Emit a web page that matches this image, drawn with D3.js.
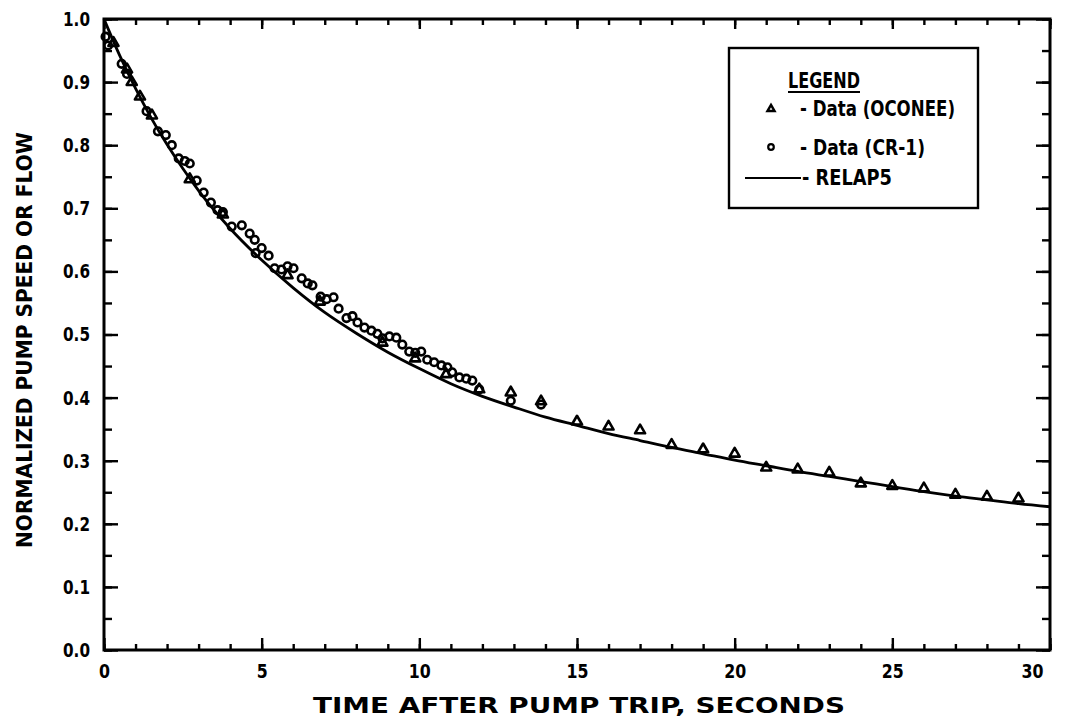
<!DOCTYPE html>
<html>
<head>
<meta charset="utf-8">
<script src="https://cdn.jsdelivr.net/npm/d3@7"></script>
<style>
  html, body { margin: 0; padding: 0; background: #fff; }
  svg { display: block; }
  text { font-family: "DejaVu Sans", sans-serif; font-weight: bold; fill: #000; }
</style>
</head>
<body>
<script>
// ---- Data ----
const relapT = [0, 0.5, 1, 1.5, 2, 2.5, 3, 4, 5, 6, 7, 8, 9, 10, 11, 12, 13, 14, 15, 16, 17, 18, 19, 20, 21, 22, 23, 24, 25, 26, 27, 28, 29, 30];
const relapV = [1.0, 0.942, 0.89, 0.843, 0.801, 0.763, 0.728, 0.668, 0.618, 0.574, 0.535, 0.502, 0.472, 0.446, 0.422, 0.402, 0.385, 0.369, 0.356, 0.343, 0.332, 0.321, 0.311, 0.301, 0.292, 0.283, 0.275, 0.267, 0.259, 0.251, 0.244, 0.238, 0.232, 0.227];

const oconeeT = [0.3, 0.73, 0.88, 1.14, 1.52, 2.72, 3.77, 5.82, 6.84, 8.83, 9.87, 10.85, 11.9, 12.9, 13.86, 15, 16, 17, 18, 19, 20, 21, 22, 23, 24, 25, 26, 27, 28, 29];
const oconeeV = [0.962, 0.92, 0.9, 0.877, 0.847, 0.746, 0.69, 0.594, 0.552, 0.487, 0.462, 0.437, 0.413, 0.408, 0.394, 0.362, 0.354, 0.348, 0.325, 0.318, 0.311, 0.289, 0.286, 0.281, 0.264, 0.26, 0.256, 0.246, 0.243, 0.24];

const cr1T = [0.05, 0.13, 0.56, 0.73, 1.35, 1.71, 1.96, 2.15, 2.37, 2.56, 2.72, 2.94, 3.16, 3.39, 3.6, 3.77, 4.05, 4.37, 4.62, 4.78, 4.81, 5.0, 5.22, 5.41, 5.63, 5.82, 6.01, 6.27, 6.46, 6.61, 6.87, 7.06, 7.28, 7.44, 7.69, 7.88, 8.04, 8.26, 8.48, 8.67, 8.83, 9.05, 9.27, 9.46, 9.68, 9.87, 10.06, 10.25, 10.47, 10.7, 10.89, 11.04, 11.27, 11.49, 11.68, 11.9, 12.9, 13.86];
const cr1V = [0.972, 0.958, 0.929, 0.913, 0.854, 0.822, 0.816, 0.8, 0.779, 0.775, 0.771, 0.744, 0.725, 0.709, 0.697, 0.694, 0.671, 0.673, 0.66, 0.65, 0.629, 0.637, 0.625, 0.605, 0.603, 0.608, 0.605, 0.589, 0.581, 0.578, 0.56, 0.556, 0.559, 0.541, 0.526, 0.529, 0.519, 0.511, 0.506, 0.501, 0.494, 0.497, 0.495, 0.484, 0.473, 0.471, 0.473, 0.46, 0.456, 0.451, 0.448, 0.44, 0.432, 0.43, 0.427, 0.413, 0.395, 0.389];

const xMajorTicks = [0, 5, 10, 15, 20, 25, 30];
const yMajorTicks = [0, 0.1, 0.2, 0.3, 0.4, 0.5, 0.6, 0.7, 0.8, 0.9, 1.0];
const xTitle = "TIME AFTER PUMP TRIP, SECONDS";
const yTitle = "NORMALIZED PUMP SPEED OR FLOW";
const legendTitle = "LEGEND";
const legendLabels = ["- Data (OCONEE)", "- Data (CR-1)", "- RELAP5"];

// ---- Layout ----
const W = 1074, H = 721;
const L = 104, R = 1050, T = 19, B = 650;

const svg = d3.select("body").append("svg").attr("width", W).attr("height", H);

const x = d3.scaleLinear().domain([0, 30]).range([L, R]);
const y = d3.scaleLinear().domain([0, 1]).range([B, T]);

const xMinor = d3.range(0, 31, 1);
const yMinor = d3.range(0, 21).map(i => i * 0.05);

function styleAxis(g) {
  g.select(".domain").remove();
  g.selectAll(".tick line").attr("stroke", "#000").attr("stroke-width", 2.4);
  g.selectAll(".tick text").attr("font-size", 20).attr("fill", "#000")
    .attr("font-family", "DejaVu Sans").attr("font-weight", "bold");
}

// bottom
svg.append("g").attr("transform", `translate(0,${B})`)
  .call(d3.axisBottom(x).tickValues(xMinor).tickSize(-6).tickFormat(""))
  .call(styleAxis);
const gxb = svg.append("g").attr("transform", `translate(0,${B})`)
  .call(d3.axisBottom(x).tickValues(xMajorTicks).tickSize(-12).tickPadding(14).tickFormat(d3.format("d")))
  .call(styleAxis);
gxb.selectAll(".tick text").filter(d => d === 30).attr("dx", -18);
gxb.selectAll(".tick text").each(function() {
  const n = this.textContent.length;
  d3.select(this).attr("textLength", n * 11).attr("lengthAdjust", "spacingAndGlyphs");
});

// top
svg.append("g").attr("transform", `translate(0,${T})`)
  .call(d3.axisTop(x).tickValues(xMinor).tickSize(-6).tickFormat(""))
  .call(styleAxis);
svg.append("g").attr("transform", `translate(0,${T})`)
  .call(d3.axisTop(x).tickValues(xMajorTicks).tickSize(-10).tickFormat(""))
  .call(styleAxis);

// left
svg.append("g").attr("transform", `translate(${L},0)`)
  .call(d3.axisLeft(y).tickValues(yMinor).tickSize(-8).tickFormat(""))
  .call(styleAxis);
const gyl = svg.append("g").attr("transform", `translate(${L},0)`)
  .call(d3.axisLeft(y).tickValues(yMajorTicks).tickSize(-14).tickPadding(14).tickFormat(d3.format(".1f")))
  .call(styleAxis);
gyl.selectAll(".tick text").attr("textLength", 27).attr("lengthAdjust", "spacingAndGlyphs");

// right
svg.append("g").attr("transform", `translate(${R},0)`)
  .call(d3.axisRight(y).tickValues(yMinor).tickSize(-8).tickFormat(""))
  .call(styleAxis);
svg.append("g").attr("transform", `translate(${R},0)`)
  .call(d3.axisRight(y).tickValues(yMajorTicks).tickSize(-14).tickFormat(""))
  .call(styleAxis);

// frame
svg.append("rect").attr("x", L).attr("y", T).attr("width", R - L).attr("height", B - T)
  .attr("fill", "none").attr("stroke", "#000").attr("stroke-width", 3);

// RELAP5 line
const relap = relapT.map((t, i) => [t, relapV[i]]);
svg.append("path").datum(relap)
  .attr("fill", "none").attr("stroke", "#000").attr("stroke-width", 2.8)
  .attr("d", d3.line().x(d => x(d[0])).y(d => y(d[1])).curve(d3.curveMonotoneX));

// CR-1 circles
svg.append("g").selectAll("circle").data(cr1T.map((t, i) => [t, cr1V[i]])).join("circle")
  .attr("cx", d => x(d[0])).attr("cy", d => y(d[1])).attr("r", 3.8)
  .attr("fill", "none").attr("stroke", "#000").attr("stroke-width", 2.6);

// OCONEE triangles
const tri = d3.symbol().type(d3.symbolTriangle).size(44);
svg.append("g").selectAll("path").data(oconeeT.map((t, i) => [t, oconeeV[i]])).join("path")
  .attr("transform", d => `translate(${x(d[0])},${y(d[1])})`)
  .attr("d", tri).attr("fill", "none").attr("stroke", "#000").attr("stroke-width", 2.6)
  .attr("stroke-linejoin", "round");

// axis titles
svg.append("text").attr("x", 579).attr("y", 713).attr("text-anchor", "middle")
  .attr("font-size", 22).attr("textLength", 532).attr("lengthAdjust", "spacingAndGlyphs").text(xTitle);
svg.append("text").attr("transform", "translate(32,340) rotate(-90)").attr("text-anchor", "middle")
  .attr("font-size", 21).attr("textLength", 416).attr("lengthAdjust", "spacingAndGlyphs").text(yTitle);

// legend
const lg = svg.append("g");
lg.append("rect").attr("x", 729).attr("y", 48).attr("width", 249).attr("height", 160)
  .attr("fill", "#fff").attr("stroke", "#000").attr("stroke-width", 2.4);
lg.append("text").attr("x", 788).attr("y", 88).attr("font-size", 22)
  .attr("textLength", 72).attr("lengthAdjust", "spacingAndGlyphs").text(legendTitle);
lg.append("line").attr("x1", 788).attr("x2", 860).attr("y1", 92).attr("y2", 92)
  .attr("stroke", "#000").attr("stroke-width", 2);
lg.append("path").attr("transform", "translate(771,109)").attr("d", d3.symbol().type(d3.symbolTriangle).size(22))
  .attr("fill", "none").attr("stroke", "#000").attr("stroke-width", 2.4);
lg.append("circle").attr("cx", 771).attr("cy", 147).attr("r", 2.8).attr("fill", "none")
  .attr("stroke", "#000").attr("stroke-width", 2.2);
lg.append("line").attr("x1", 745).attr("x2", 801).attr("y1", 178).attr("y2", 178)
  .attr("stroke", "#000").attr("stroke-width", 2.2);
const legendX = [800, 800, 802];
const legendY = [116, 155, 185];
const legendW = [155, 125, 90];
legendLabels.forEach((s, i) => {
  lg.append("text").attr("x", legendX[i]).attr("y", legendY[i]).attr("font-size", 21)
    .attr("textLength", legendW[i]).attr("lengthAdjust", "spacingAndGlyphs").text(s);
});
</script>
</body>
</html>
